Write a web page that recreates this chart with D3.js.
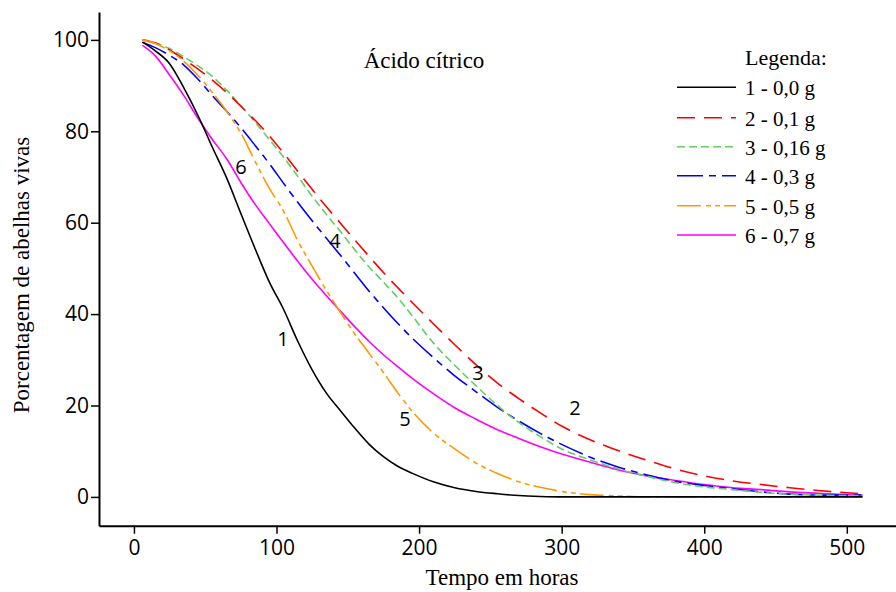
<!DOCTYPE html>
<html>
<head>
<meta charset="utf-8">
<script src="https://cdn.jsdelivr.net/npm/d3@7"></script>
<style>
  body { margin: 0; background: #fff; }
  svg { display: block; }
</style>
</head>
<body>
<div id="chart"></div>
<script>
// time in hours
var hours = [6, 15, 25, 35, 45, 55, 65, 75, 85, 95, 105, 115, 125, 135, 145, 155, 165, 175, 185, 195,
             210, 225, 240, 255, 270, 285, 300, 320, 340, 360, 380, 400, 420, 440, 460, 480, 500, 511];

// percentage of live bees per treatment
var s1 = [99.5, 97.6, 94.8, 89.5, 83.4, 76.5, 69.8, 62, 54.3, 47, 41, 34, 27.8, 22.7, 18.8, 15, 11.5, 8.8, 6.7, 5.2,
          3.3, 2.0, 1.2, 0.7, 0.3, 0.1, 0, 0, 0, 0, 0, 0, 0, 0, 0, 0, 0, 0];
var s2 = [100, 99.3, 97.8, 95.8, 93.6, 91.2, 88.5, 85.5, 82.4, 79, 75.2, 71.2, 67.3, 63.5, 59.8, 56.2, 52.6, 49.1, 45.8, 42.6,
          37.9, 33.3, 28.9, 24.9, 21.5, 18.4, 15.5, 12.5, 10.1, 8, 6.1, 4.6, 3.5, 2.7, 2.0, 1.4, 0.9, 0.7];
var s3 = [100, 99.3, 98.1, 96.3, 94.3, 92, 89, 85.6, 82, 78.2, 74.3, 70.1, 65.8, 61.8, 58, 54, 50.3, 47, 43.6, 39.7,
          33.7, 28.8, 24.3, 20, 16.3, 13.2, 10.5, 8.1, 6.1, 4.5, 3.1, 2.2, 1.6, 1.0, 0.6, 0.4, 0.3, 0.3];
var s4 = [99.5, 98.3, 96.6, 94.5, 91.4, 87.8, 84.4, 80.8, 76.9, 72.9, 68.6, 64.4, 60.4, 56.6, 52.8, 48.9, 45, 41.4, 38, 34.8,
          30.5, 26.5, 23, 19.6, 16.6, 13.9, 11.5, 8.7, 6.5, 4.8, 3.4, 2.5, 1.8, 1.1, 0.6, 0.4, 0.4, 0.5];
var s5 = [100, 99.2, 97.6, 95.3, 92.2, 88.5, 84.4, 79.6, 73.4, 67.5, 62.5, 56, 50.5, 45.2, 40.3, 35.6, 31.4, 27.2, 22.8, 18.8,
          14, 10.5, 7.4, 5.1, 3.3, 2.1, 1.2, 0.5, 0.2, 0, 0, 0, 0, 0, 0, 0, 0, 0];
var s6 = [98.8, 96.5, 92.3, 87.8, 82.8, 78.2, 74, 68.8, 64, 59.8, 55.6, 51.5, 47.6, 44, 40.6, 37.2, 34, 31.1, 28.5, 26,
          22.6, 19.5, 17, 14.7, 12.8, 11, 9.4, 7.6, 5.9, 4.6, 3.6, 2.7, 2.0, 1.6, 1.1, 0.8, 0.5, 0.4];

var legendLabels = ["1 - 0,0 g", "2 - 0,1 g", "3 - 0,16 g", "4 - 0,3 g", "5 - 0,5 g", "6 - 0,7 g"];
var curveNames = ["1", "2", "3", "4", "5", "6"];
var xTicks = [0, 100, 200, 300, 400, 500];
var yTicks = [0, 20, 40, 60, 80, 100];

var w = 896, h = 592;
var svg = d3.select("#chart").append("svg")
    .attr("width", w)
    .attr("height", h);

var x = d3.scaleLinear().domain([-24.5, 534.5]).range([99, 896]);
var y = d3.scaleLinear().domain([-6.3, 106.1]).range([525.7, 12]);

var series = [
    {vals: s1, color: "#000000", dash: null},
    {vals: s2, color: "#ff0000", dash: "18,9"},
    {vals: s3, color: "#66cc66", dash: "8,4"},
    {vals: s4, color: "#0000ff", dash: "26,6,7,6"},
    {vals: s5, color: "#ff9900", dash: "24,5,5,4,5,4"},
    {vals: s6, color: "#ff00ff", dash: null}
];

var line = d3.line()
    .curve(d3.curveMonotoneX)
    .x(function(d) { return x(d[0]); })
    .y(function(d) { return y(d[1]); });

// draw bottom-most first so black ends on top near zero
var order = [5, 3, 2, 1, 4, 0];
order.forEach(function(i) {
    var s = series[i];
    svg.append("path")
        .datum(hours.map(function(t, j) { return [t, s.vals[j]]; }))
        .attr("fill", "none")
        .attr("stroke", s.color)
        .attr("stroke-width", 1.6)
        .attr("stroke-dasharray", s.dash)
        .attr("d", line);
});

// axes
var xAxis = svg.append("g")
    .attr("transform", "translate(0,525.7)")
    .call(d3.axisBottom(x).tickValues(xTicks).tickSize(8).tickSizeOuter(0).tickPadding(6));
var yAxis = svg.append("g")
    .attr("transform", "translate(99,0)")
    .call(d3.axisLeft(y).tickValues(yTicks).tickSize(8).tickSizeOuter(0).tickPadding(2));

[xAxis, yAxis].forEach(function(a) {
    a.select(".domain").attr("stroke-width", 2);
    a.selectAll(".tick line").attr("stroke-width", 1.5);
    a.selectAll("text")
        .attr("font-family", "'Open Sans', sans-serif")
        .attr("font-size", "21px")
        .attr("fill", "#000");
});

// axis titles
svg.append("text")
    .attr("x", 502)
    .attr("y", 585)
    .attr("text-anchor", "middle")
    .attr("font-family", "'Liberation Serif', serif")
    .attr("font-size", "23px")
    .text("Tempo em horas");

svg.append("text")
    .attr("transform", "translate(29,275) rotate(-90)")
    .attr("text-anchor", "middle")
    .attr("font-family", "'Liberation Serif', serif")
    .attr("font-size", "23px")
    .text("Porcentagem de abelhas vivas");

// title
svg.append("text")
    .attr("x", 424)
    .attr("y", 68)
    .attr("text-anchor", "middle")
    .attr("font-family", "'Liberation Serif', serif")
    .attr("font-size", "23px")
    .text("Ácido cítrico");

// curve number labels
var labelPos = [[283, 339], [575, 408], [478, 373], [335, 241], [405, 419], [241, 167]];
svg.selectAll("text.cname")
    .data(curveNames)
    .enter()
    .append("text")
    .attr("class", "cname")
    .attr("x", function(d, i) { return labelPos[i][0]; })
    .attr("y", function(d, i) { return labelPos[i][1] + 7; })
    .attr("text-anchor", "middle")
    .attr("font-family", "'Open Sans', sans-serif")
    .attr("font-size", "20px")
    .text(function(d) { return d; });

// legend
svg.append("text")
    .attr("x", 745)
    .attr("y", 65)
    .attr("font-family", "'Liberation Serif', serif")
    .attr("font-size", "22px")
    .text("Legenda:");

var legY = [87.3, 117.7, 146.7, 175.7, 205.7, 235];
var leg = svg.selectAll("g.leg")
    .data(series)
    .enter()
    .append("g")
    .attr("class", "leg")
    .attr("transform", function(d, i) { return "translate(0," + legY[i] + ")"; });
leg.append("line")
    .attr("x1", 677)
    .attr("x2", 736)
    .attr("stroke", function(d) { return d.color; })
    .attr("stroke-width", 1.6)
    .attr("stroke-dasharray", function(d) { return d.dash; });
leg.append("text")
    .attr("x", 745)
    .attr("y", 8)
    .attr("font-family", "'Liberation Serif', serif")
    .attr("font-size", "21px")
    .text(function(d, i) { return legendLabels[i]; });
</script>
</body>
</html>
